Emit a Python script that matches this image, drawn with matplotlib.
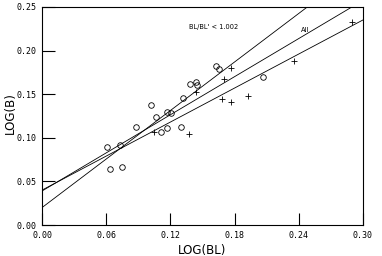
import numpy as np
from matplotlib import pyplot as plt

# circles (one group) and pluses (other group)
circ_x = [0.061, 0.073, 0.064, 0.075, 0.088, 0.102, 0.107, 0.111, 0.117, 0.117,
          0.121, 0.130, 0.132, 0.138, 0.144, 0.145, 0.163, 0.165, 0.207]
circ_y = [0.089, 0.092, 0.064, 0.067, 0.112, 0.138, 0.124, 0.107, 0.111, 0.130,
          0.128, 0.112, 0.146, 0.162, 0.164, 0.161, 0.182, 0.179, 0.170]

plus_x = [0.105, 0.137, 0.144, 0.168, 0.170, 0.177, 0.177, 0.193, 0.236, 0.290]
plus_y = [0.107, 0.104, 0.153, 0.145, 0.167, 0.180, 0.141, 0.148, 0.188, 0.233]

# fitted lines: intercept, slope
fit_b = [0.020, 0.039, 0.040]
fit_m = [0.927, 0.728, 0.650]

xticks = [0.00, 0.06, 0.12, 0.18, 0.24, 0.30]
yticks = [0.00, 0.05, 0.10, 0.15, 0.20, 0.25]

fig = plt.figure(figsize=(3.82, 2.56), dpi=100)
ax = fig.add_axes([0.110, 0.121, 0.840, 0.852])

xl = np.array([0.0, 0.30])
for b, m in zip(fit_b, fit_m):
    ax.plot(xl, b + m * xl, color='black', lw=0.6)

ax.plot(circ_x, circ_y, 'o', mfc='none', mec='black', ms=4, mew=0.6)
ax.plot(plus_x, plus_y, '+', color='black', ms=4, mew=0.6)

ax.text(0.137, 0.227, "BL/BL' < 1.002", fontsize=4.8, va='center', ha='left')
ax.text(0.242, 0.224, "All", fontsize=4.8, va='center', ha='left')

ax.set_xlim(0, 0.30)
ax.set_ylim(0, 0.25)
ax.set_xticks(xticks)
ax.set_yticks(yticks)
ax.set_xticklabels(['%.2f' % t for t in xticks], family='DejaVu Sans Mono', fontsize=6)
ax.set_yticklabels(['%.2f' % t for t in yticks], family='DejaVu Sans Mono', fontsize=6)
ax.tick_params(direction='in', length=9, width=0.8, pad=4)
for s in ax.spines.values():
    s.set_linewidth(0.8)

ax.set_xlabel("LOG(BL)", fontsize=8.5, labelpad=3)
fig.text(10 / 382, 1 - 113 / 256, "LOG(B)", fontsize=8.5, rotation=90,
         ha='center', va='center')

fig.savefig('out.png', dpi=100)
